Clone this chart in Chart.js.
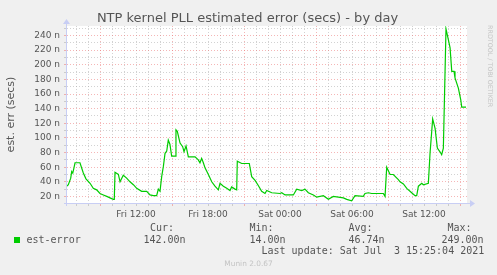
<!DOCTYPE html>
<html><head><meta charset="utf-8">
<script src="https://cdn.jsdelivr.net/npm/chart.js@4/dist/chart.umd.min.js"></script>
<style>html,body{margin:0;padding:0;background:#F0F0F0;}canvas{display:block;}</style>
</head><body>
<canvas id="c" width="497" height="275"></canvas>
<script>
// time in hours since Fri 00:00
const hours = [6.25,6.36,6.56,6.64,6.73,6.83,6.92,7.33,7.61,7.83,8.17,8.44,8.72,9.00,9.28,9.56,9.83,10.11,10.19,10.25,10.53,10.67,10.94,11.22,11.50,11.78,12.06,12.47,12.89,13.17,13.44,13.72,13.86,14.00,14.14,14.28,14.42,14.56,14.69,14.83,14.97,15.25,15.33,15.44,15.67,15.89,16.00,16.17,16.36,16.92,17.19,17.33,17.47,17.61,17.75,18.03,18.31,18.58,18.86,19.00,19.28,19.56,19.83,19.97,20.25,20.39,20.44,20.81,21.44,21.64,21.92,22.19,22.47,22.75,22.89,23.31,24.00,24.14,24.42,25.11,25.39,25.81,26.08,26.36,26.78,27.06,27.61,28.03,28.44,29.28,29.56,29.97,30.25,30.94,31.08,31.36,31.64,32.61,32.75,32.89,33.17,33.44,33.86,34.00,34.28,34.56,34.97,35.25,35.39,35.53,35.81,35.94,36.36,36.50,36.72,36.92,37.11,37.33,37.47,37.61,37.83,38.03,38.17,38.31,38.50,38.58,38.86,39.06,39.14,39.50];
// est-error in nanoseconds
const estError = [34,36,45,54,52,59,66,66,52,44,38,31,29,24,22,20,18,16,16,53,50,40,49,45,40,36,31,27,27,22,21,21,30,27,47,61,79,82,97,91,75,75,111,109,93,88,81,89,74,74,70,66,72,66,59,50,40,34,29,38,34,31,28,33,30,29,68,65,65,47,42,35,27,24,28,25,24,25,22,22,30,28,30,25,22,19,21,16,20,18,16,14,21,20,24,25,24,24,20,60,50,50,43,40,37,31,25,21,21,34,38,36,38,79,126,113,86,81,77,86,249,234,223,191,191,182,168,152,142,142];

const xTickHours = [12,18,24,30,36];
const xTickLabels = ['Fri 12:00','Fri 18:00','Sat 00:00','Sat 06:00','Sat 12:00'];
const yTickValues = [20,40,60,80,100,120,140,160,180,200,220,240];
const yTickLabels = ['20 n','40 n','60 n','80 n','100 n','120 n','140 n','160 n','180 n','200 n','220 n','240 n'];
const legendHeaders = ['Cur:','Min:','Avg:','Max:'];
const legendValues = ['142.00n','14.00n','46.74n','249.00n'];
const titleText = 'NTP kernel PLL estimated error (secs) - by day';

const MINOR = 'rgba(165,165,165,0.5)';
const MAJOR = 'rgba(235,110,110,0.5)';
const AXIS = '#C8CEF4';

const deco = {
  id:'deco',
  beforeDraw(chart){
    const {ctx, chartArea:a} = chart;
    ctx.save();
    ctx.fillStyle = '#FFFFFF';
    ctx.fillRect(a.left, a.top, a.right-a.left, a.bottom-a.top);
    ctx.restore();
  },
  afterDraw(chart){
    const {ctx, chartArea:a} = chart;
    ctx.save();
    // title
    ctx.fillStyle = '#555';
    ctx.font = '13px "DejaVu Sans"';
    ctx.textAlign = 'center';
    ctx.textBaseline = 'middle';
    ctx.fillText(titleText, 247.5, 19);
    // axes
    ctx.strokeStyle = AXIS; ctx.fillStyle = AXIS; ctx.lineWidth = 1;
    ctx.beginPath();
    ctx.moveTo(a.left-3, a.bottom+0.5); ctx.lineTo(a.right+3, a.bottom+0.5);
    ctx.moveTo(a.left-0.5, a.bottom+3); ctx.lineTo(a.left-0.5, a.top-3);
    ctx.stroke();
    ctx.beginPath();
    ctx.moveTo(a.right+3, a.bottom-3); ctx.lineTo(a.right+8, a.bottom+0.5); ctx.lineTo(a.right+3, a.bottom+4); ctx.closePath(); ctx.fill();
    ctx.beginPath();
    ctx.moveTo(a.left-4, a.top-2); ctx.lineTo(a.left-0.5, a.top-7); ctx.lineTo(a.left+3, a.top-2); ctx.closePath(); ctx.fill();
    // legend
    ctx.fillStyle = '#00CC00';
    ctx.fillRect(14, 237, 6, 6);
    ctx.font = '10px "DejaVu Sans Mono"';
    ctx.textBaseline = 'middle';
    ctx.textAlign = 'left';
    ctx.fillStyle = '#555';
    ctx.fillText('est-error', 26.5, 240);
    const hx = [150, 249.5, 348.5, 447.5];
    const vx = [143.5, 249.5, 348.5, 441.5];
    legendHeaders.forEach((t,i)=>ctx.fillText(t, hx[i], 228.5));
    legendValues.forEach((t,i)=>ctx.fillText(t, vx[i], 240));
    ctx.fillText('Last update: Sat Jul  3 15:25:04 2021', 261.5, 251.5);
    // footer + watermark
    ctx.fillStyle = '#C4C4C4';
    ctx.font = '7.4px "DejaVu Sans"';
    ctx.textAlign = 'center';
    ctx.fillText('Munin 2.0.67', 248.5, 264.5);
    ctx.translate(490, 25);
    ctx.rotate(Math.PI/2);
    ctx.textAlign = 'left';
    ctx.font = '6.4px "DejaVu Sans"';
    ctx.fillText('RRDTOOL / TOBI OETIKER', 0, 0);
    ctx.restore();
  }
};

new Chart(document.getElementById('c'), {
  type:'line',
  data:{datasets:[{
    data: hours.map((h,i)=>({x:h, y:estError[i]})),
    borderColor:'#00CC00', borderWidth:1.2, pointRadius:0, tension:0, fill:false
  }]},
  options:{
    responsive:false, animation:false, devicePixelRatio:1,
    layout:{padding:{left:0,right:30,top:26,bottom:0}},
    plugins:{
      legend:{display:false}, tooltip:{enabled:false}, title:{display:false}
    },
    scales:{
      x:{type:'linear', min:6.25, max:39.58,
        afterBuildTicks(s){ const t=[]; for(let h=7;h<=39;h++) t.push({value:h}); s.ticks=t; },
        afterFit(s){ s.height = 72; },
        ticks:{autoSkip:false, maxRotation:0, padding:3, color:'#555', font:{family:'DejaVu Sans', size:9},
          callback(v){ const i = xTickHours.indexOf(v); return i>=0 ? xTickLabels[i] : ''; }},
        grid:{drawTicks:true, tickLength:3, lineWidth:1,
          color(c){ const v = c.tick ? c.tick.value : 0; return ((v-9)%6===0) ? MAJOR : MINOR; }},
        border:{display:false, dash:[1,2]}
      },
      y:{type:'linear', min:11, max:253,
        afterBuildTicks(s){ const t=[]; for(let v=20;v<=250;v+=10) t.push({value:v}); s.ticks=t; },
        afterFit(s){ s.width = 67; },
        title:{display:true, text:'est. err (secs)', color:'#555', font:{family:'DejaVu Sans', size:11}, padding:{top:4.4,bottom:0}},
        ticks:{autoSkip:false, padding:4, color:'#555', font:{family:'DejaVu Sans', size:9},
          callback(v){ const i = yTickValues.indexOf(v); return i>=0 ? yTickLabels[i] : ''; }},
        grid:{drawTicks:true, tickLength:3, lineWidth:1,
          color(c){ const v = c.tick ? c.tick.value : 0; return (v%20===0) ? MAJOR : MINOR; }},
        border:{display:false, dash:[1,2]}
      }
    }
  },
  plugins:[deco]
});
</script>
</body></html>
